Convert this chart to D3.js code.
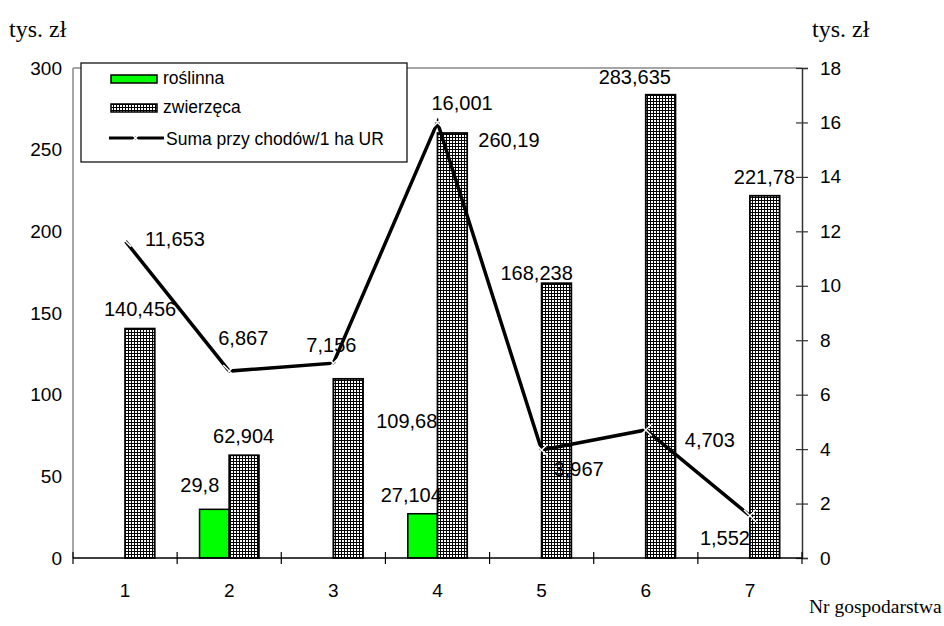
<!DOCTYPE html>
<html>
<head>
<meta charset="utf-8">
<script src="https://cdn.jsdelivr.net/npm/d3@7"></script>
<style>
  body { margin: 0; background: #fff; }
  svg { display: block; }
</style>
</head>
<body>
<svg id="chart" width="944" height="626"></svg>
<script>
// Gospodarstwa (farm numbers)
const categories = ["1", "2", "3", "4", "5", "6", "7"];
// Przychody z produkcji roślinnej, tys. zł (left axis)
const roslinna = [0, 29.8, 0, 27.104, 0, 0, 0];
// Przychody z produkcji zwierzęcej, tys. zł (left axis)
const zwierzeca = [140.456, 62.904, 109.68, 260.19, 168.238, 283.635, 221.78];
// Suma przychodów na 1 ha UR, tys. zł (right axis)
const sumaPrzychodow = [11.653, 6.867, 7.156, 16.001, 3.967, 4.703, 1.552];
const leftTicks = [0, 50, 100, 150, 200, 250, 300];
const rightTicks = [0, 2, 4, 6, 8, 10, 12, 14, 16, 18];

// Label nudges (px): left edge / baseline of each label relative to its mark's anchor
const lineLabelNudge = [[20, 5], [-11, -26], [-27, -11], [-6, -12], [12, 26], [39, 17], [-50, 29]];
const zwLabelNudge = [[-36, -13], [-31, -12], [28, 49], [26, 14], [-56, -3], [-62, -11], [-31, -12]];
const roLabelNudge = [null, [-34, -17], null, [-42, -12], null, null, null];

const fmt = v => String(v).replace(".", ",");

const svg = d3.select("#chart");
const L = 73, R = 802, T = 68, B = 558;

const x = d3.scaleBand().domain(categories).range([L, R]).padding(0);
const yL = d3.scaleLinear().domain([0, 300]).range([B, T]);
const yR = d3.scaleLinear().domain([0, 18]).range([B, T]);
const barW = x.bandwidth() * 0.285;
const cx = c => x(c) + x.bandwidth() / 2;

// dense checkered fill for the "zwierzęca" series
const defs = svg.append("defs");
const pat = defs.append("pattern").attr("id", "grid")
  .attr("patternUnits", "userSpaceOnUse").attr("width", 3).attr("height", 3);
pat.append("rect").attr("width", 3).attr("height", 3).attr("fill", "#000");
pat.append("rect").attr("width", 2).attr("height", 2).attr("fill", "#fff");

// plot frame
svg.append("line").attr("x1", L).attr("x2", R).attr("y1", T).attr("y2", T)
  .attr("stroke", "#888").attr("stroke-width", 1.5);
svg.append("line").attr("x1", L).attr("x2", L).attr("y1", T).attr("y2", B)
  .attr("stroke", "#888").attr("stroke-width", 1.5);

// left axis labels
const tickFont = "Liberation Sans, Arial, sans-serif";
svg.append("g").selectAll("text").data(leftTicks).join("text")
  .attr("x", L - 11).attr("y", d => yL(d)).attr("dy", "0.35em")
  .attr("text-anchor", "end").attr("font-family", tickFont).attr("font-size", 19)
  .text(d => d);

// right axis
const gR = svg.append("g").attr("transform", `translate(${R},0)`)
  .call(d3.axisRight(yR).tickValues(rightTicks).tickSize(6).tickPadding(12).tickFormat(d => d));
gR.select(".domain").attr("stroke", "#333").attr("stroke-width", 1.5);
gR.selectAll(".tick line").attr("x1", -6).attr("x2", 6).attr("stroke", "#333").attr("stroke-width", 1.2);
gR.selectAll(".tick text").attr("font-family", tickFont).attr("font-size", 19).attr("fill", "#000");

// bars
svg.append("g").selectAll("rect").data(categories).join("rect")
  .attr("x", c => cx(c) - barW).attr("width", barW)
  .attr("y", (c, i) => yL(roslinna[i])).attr("height", (c, i) => yL(0) - yL(roslinna[i]))
  .attr("fill", "#00ff00").attr("stroke", "#000").attr("stroke-width", 1.5)
  .attr("display", (c, i) => roslinna[i] > 0 ? null : "none");
svg.append("g").selectAll("rect").data(categories).join("rect")
  .attr("x", c => cx(c)).attr("width", barW)
  .attr("y", (c, i) => yL(zwierzeca[i])).attr("height", (c, i) => yL(0) - yL(zwierzeca[i]))
  .attr("fill", "url(#grid)").attr("stroke", "#000").attr("stroke-width", 1.8);

// bottom axis with crossing ticks at band edges
svg.append("line").attr("x1", L).attr("x2", R).attr("y1", B).attr("y2", B)
  .attr("stroke", "#000").attr("stroke-width", 1.5);
const edges = categories.map(c => x(c)).concat([R]);
svg.append("g").selectAll("line").data(edges).join("line")
  .attr("x1", d => d).attr("x2", d => d).attr("y1", B - 6).attr("y2", B + 6)
  .attr("stroke", "#000").attr("stroke-width", 1.2);
svg.append("g").selectAll("text").data(categories).join("text")
  .attr("x", c => cx(c)).attr("y", B + 39).attr("text-anchor", "middle")
  .attr("font-family", tickFont).attr("font-size", 19).text(c => c);

// line series
const line = d3.line().x((d, i) => cx(categories[i])).y(d => yR(d));
svg.append("path").datum(sumaPrzychodow).attr("d", line)
  .attr("fill", "none").attr("stroke", "#000").attr("stroke-width", 3.5)
  .attr("stroke-linejoin", "miter");

const xMark = (g, px, py, s) => {
  g.append("path").attr("d", `M${px - s},${py - s}L${px + s},${py + s}M${px - s},${py + s}L${px + s},${py - s}`)
    .attr("stroke", "#fff").attr("stroke-width", 1.5).attr("fill", "none");
};
const gm = svg.append("g");
sumaPrzychodow.forEach((v, i) => xMark(gm, cx(categories[i]), yR(v), 6));

// data labels
const gl = svg.append("g").attr("font-family", tickFont).attr("font-size", 20);
sumaPrzychodow.forEach((v, i) => {
  gl.append("text").attr("x", cx(categories[i]) + lineLabelNudge[i][0])
    .attr("y", yR(v) + lineLabelNudge[i][1]).text(fmt(v));
});
zwierzeca.forEach((v, i) => {
  gl.append("text").attr("x", cx(categories[i]) + barW / 2 + zwLabelNudge[i][0])
    .attr("y", yL(v) + zwLabelNudge[i][1]).text(fmt(v));
});
roslinna.forEach((v, i) => {
  if (!(v > 0)) return;
  gl.append("text").attr("x", cx(categories[i]) - barW / 2 + roLabelNudge[i][0])
    .attr("y", yL(v) + roLabelNudge[i][1]).text(fmt(v));
});

// legend
const lg = svg.append("g");
lg.append("rect").attr("x", 81).attr("y", 63).attr("width", 326).attr("height", 99)
  .attr("fill", "#fff").attr("stroke", "#000").attr("stroke-width", 1.2);
lg.append("rect").attr("x", 111).attr("y", 75).attr("width", 46).attr("height", 8)
  .attr("fill", "#00ff00").attr("stroke", "#000").attr("stroke-width", 1.5);
lg.append("rect").attr("x", 111).attr("y", 104).attr("width", 46).attr("height", 8)
  .attr("fill", "url(#grid)").attr("stroke", "#000").attr("stroke-width", 1.5);
lg.append("line").attr("x1", 109).attr("x2", 164).attr("y1", 138).attr("y2", 138)
  .attr("stroke", "#000").attr("stroke-width", 3.2);
xMark(lg, 135.5, 138, 4);
const legendItems = ["roślinna", "zwierzęca", "Suma przy chodów/1 ha UR"];
lg.selectAll("text.li").data(legendItems).join("text").attr("class", "li")
  .attr("x", (d, i) => i < 2 ? 163 : 166).attr("y", (d, i) => [84, 113, 145][i])
  .attr("font-family", tickFont).attr("font-size", 17.5).text(d => d);

// axis titles
const serif = "Liberation Serif, Times New Roman, serif";
svg.append("text").attr("x", 9).attr("y", 37).attr("font-family", serif).attr("font-size", 24).text("tys. zł");
svg.append("text").attr("x", 812).attr("y", 37).attr("font-family", serif).attr("font-size", 24).text("tys. zł");
svg.append("text").attr("x", 809).attr("y", 613)
  .attr("font-family", serif).attr("font-size", 19.5).text("Nr gospodarstwa");
</script>
</body>
</html>
